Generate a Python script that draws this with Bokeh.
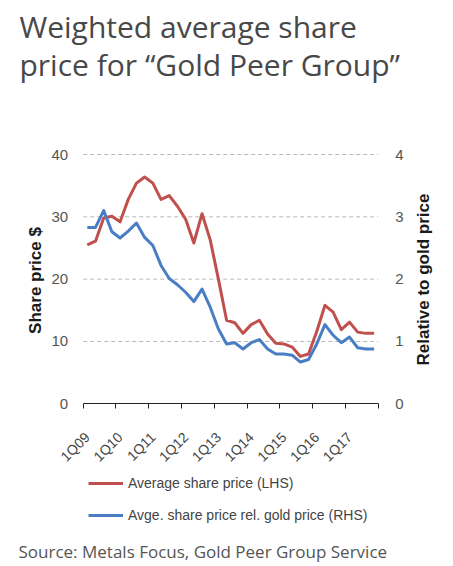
from math import pi
from bokeh.plotting import figure
from bokeh.models import (Range1d, LinearAxis, FixedTicker, Label, Legend,
                          LegendItem, Grid)
from bokeh.embed import file_html
from bokeh.resources import INLINE

# ---------------- data ----------------
quarters = [f"{q}Q{y:02d}" for y in range(9, 18) for q in range(1, 5)]
share_price = [25.5, 26.1, 29.8, 30.1, 29.2, 32.8, 35.4, 36.4, 35.4, 32.8,
               33.4, 31.7, 29.6, 25.8, 30.5, 26.3, 20.0, 13.4, 13.0, 11.3,
               12.7, 13.4, 11.2, 9.7, 9.6, 9.1, 7.6, 8.0, 11.6, 15.8,
               14.7, 11.9, 13.1, 11.5, 11.3, 11.3]
rel_gold = [2.83, 2.83, 3.10, 2.76, 2.66, 2.77, 2.90, 2.67, 2.54, 2.22,
            2.01, 1.91, 1.79, 1.64, 1.84, 1.55, 1.20, 0.96, 0.98, 0.88,
            0.98, 1.03, 0.88, 0.80, 0.80, 0.78, 0.67, 0.71, 0.96, 1.27,
            1.10, 0.98, 1.07, 0.90, 0.88, 0.88]
left_ticks = [0, 10, 20, 30, 40]
right_ticks = [0, 1, 2, 3, 4]
series_names = ["Average share price (LHS)",
                "Avge. share price rel. gold price (RHS)"]
title_lines = ["Weighted average share", "price for \u201cGold Peer Group\u201d"]
source_text = "Source: Metals Focus, Gold Peer Group Service"
left_title = "Share price $"
right_title = "Relative to gold price"

RED = "#c0504d"
BLUE = "#4a7ec4"

# ---------------- layout (canvas pixels) ----------------
W, H = 453, 566
PL, PR, PT, PB = 82.7, 377.7, 154.0, 403.3   # plot area edges
n = len(quarters)
px_x = (PR - PL) / n
px_y = (PB - PT) / (left_ticks[-1] - left_ticks[0])
ratio = (right_ticks[-1] - right_ticks[0]) / (left_ticks[-1] - left_ticks[0])


def dx(cx):
    return -0.5 + (cx - PL) / px_x


def dy(cy):
    return left_ticks[0] + (PB - cy) / px_y


idx = list(range(n))
x_lo, x_hi = idx[0] - 0.5, idx[-1] + 0.5
year_idx = [i for i, q in enumerate(quarters) if q.startswith("1Q")]
bounds = [i - 0.5 for i in year_idx] + [x_hi]

p = figure(width=W, height=H, output_backend="svg", toolbar_location=None,
           x_range=Range1d(dx(0), dx(W)), y_range=Range1d(dy(H), dy(0)),
           min_border=0, x_axis_location=None, y_axis_location=None,
           title=None)
p.outline_line_color = None
p.background_fill_color = "white"
p.border_fill_color = "white"
p.extra_y_ranges = {"rhs": Range1d(dy(H) * ratio, dy(0) * ratio)}
p.center = [r for r in p.center if not isinstance(r, Grid)]

# dashed horizontal gridlines across the plot area
grid_y = left_ticks[1:]
p.segment(x0=[x_lo] * len(grid_y), x1=[x_hi] * len(grid_y), y0=grid_y, y1=grid_y,
          line_color="#b8b8b8", line_dash="4 3", line_width=1)

common = dict(axis_line_color=None, major_tick_in=0, major_tick_out=0,
              minor_tick_in=0, minor_tick_out=0,
              major_label_text_font="Liberation Sans",
              major_label_text_font_size="15px",
              major_label_text_color="#555555")
yl = LinearAxis(ticker=FixedTicker(ticks=left_ticks), fixed_location=x_lo,
                major_label_standoff=15, **common)
p.add_layout(yl, "left")
yr = LinearAxis(ticker=FixedTicker(ticks=right_ticks), y_range_name="rhs",
                fixed_location=x_hi, major_label_standoff=17, **common)
p.add_layout(yr, "right")

xa = LinearAxis(ticker=FixedTicker(ticks=year_idx, minor_ticks=bounds),
                fixed_location=left_ticks[0], bounds=(x_lo, x_hi),
                major_label_overrides={i: quarters[i] for i in year_idx},
                major_label_orientation=pi / 4,
                axis_line_color="#222222", axis_line_width=1,
                major_tick_in=0, major_tick_out=0,
                minor_tick_in=0, minor_tick_out=5,
                minor_tick_line_color="#222222",
                major_label_standoff=26,
                major_label_text_font="Liberation Sans",
                major_label_text_font_size="14px",
                major_label_text_color="#444444")
p.add_layout(xa, "below")

r_red = p.line(idx, share_price, line_color=RED, line_width=3, line_join="round")
r_blue = p.line(idx, rel_gold, y_range_name="rhs", line_color=BLUE, line_width=3,
                line_join="round")

legend = Legend(items=[LegendItem(label=series_names[0], renderers=[r_red]),
                       LegendItem(label=series_names[1], renderers=[r_blue])],
                location=(88, H - 525), orientation="vertical",
                glyph_width=35, glyph_height=20, label_height=20,
                label_standoff=5, spacing=12, padding=0, margin=0,
                border_line_color=None, background_fill_alpha=0,
                label_text_font="Liberation Sans", label_text_font_size="14px",
                label_text_color="#444444")
p.add_layout(legend)

for txt, yc in zip(title_lines, [25.5, 63.5]):
    p.add_layout(Label(x=dx(19), y=dy(yc), text=txt, text_font="Open Sans",
                       text_font_size="30px", text_color="#484848",
                       text_baseline="middle", text_align="left"))

p.add_layout(Label(x=dx(18), y=dy(550.5), text=source_text, text_font="Open Sans",
                   text_font_size="17px", text_color="#555555",
                   text_baseline="middle", text_align="left"))

p.add_layout(Label(x=dx(35), y=dy(280), text=left_title, angle=pi / 2,
                   text_font="Liberation Sans", text_font_style="bold",
                   text_font_size="17px", text_color="#1a1a1a",
                   text_align="center", text_baseline="middle"))
p.add_layout(Label(x=dx(423), y=dy(279), text=right_title, angle=pi / 2,
                   text_font="Liberation Sans", text_font_style="bold",
                   text_font_size="17px", text_color="#1a1a1a",
                   text_align="center", text_baseline="middle"))

open("out.html", "w").write(file_html(p, INLINE))
